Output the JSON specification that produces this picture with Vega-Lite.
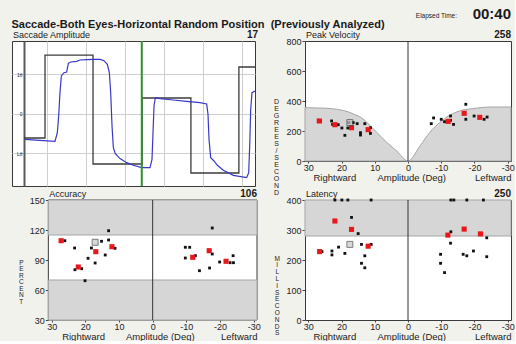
{
  "$schema": "https://vega.github.io/schema/vega-lite/v6.json",
  "background": "#f2f2ed",
  "padding": {"left": 11, "top": 6, "right": 0, "bottom": 0},
  "title": {"text": "Saccade-Both Eyes-Horizontal Random Position\u00a0 (Previously Analyzed)", "anchor": "start", "frame": "bounds", "font": "Liberation Sans", "fontSize": 11, "fontWeight": "bold", "color": "#1a1a1a", "offset": -23},
  "columns": 2,
  "bounds": "flush",
  "spacing": {"row": 14, "column": 48},
  "config": {
    "font": "Liberation Sans",
    "view": {"stroke": "#3a3a3a", "fill": "white"},
    "axis": {"labelFont": "Liberation Sans", "labelFontSize": 9, "labelColor": "#222", "tickColor": "#444", "tickSize": 3, "labelPadding": 1, "labelOverlap": false, "labelFlush": false, "labelBound": false, "domainColor": "#333", "titleFont": "Liberation Sans", "titleFontWeight": "normal", "titleColor": "#222", "titleFontSize": 9.5, "grid": false},
    "axisX": {"labelPadding": 0, "titlePadding": 0, "tickSize": 2},
    "text": {"font": "Liberation Sans", "color": "#1a1a1a"}
  },
  "datasets": {
    "eye": [
      {"t":0.436,"deg":-6.41},{"t":0.906,"deg":-6.75},{"t":1.205,"deg":-6.92},{"t":1.265,"deg":-4.73},{"t":1.299,"deg":-0.51},{"t":1.333,"deg":5.4},{"t":1.368,"deg":9.62},{"t":1.436,"deg":10.46},{"t":1.504,"deg":10.63},{"t":1.547,"deg":12.83},{"t":1.607,"deg":13.16},{"t":1.761,"deg":13.33},{"t":1.846,"deg":13.67},{"t":2.017,"deg":13.75},{"t":2.188,"deg":13.84},{"t":2.359,"deg":13.84},{"t":2.462,"deg":13.5},{"t":2.547,"deg":12.57},{"t":2.598,"deg":10.46},{"t":2.633,"deg":5.4},{"t":2.667,"deg":-3.04},{"t":2.701,"deg":-8.52},{"t":2.752,"deg":-10.04},{"t":2.872,"deg":-11.3},{"t":3.043,"deg":-12.32},{"t":3.213,"deg":-12.99},{"t":3.428,"deg":-13.59},{"t":3.641,"deg":-13.59},{"t":3.692,"deg":-11.48},{"t":3.718,"deg":-4.73},{"t":3.744,"deg":2.03},{"t":3.777,"deg":4.14},{"t":3.897,"deg":3.88},{"t":4.239,"deg":3.54},{"t":4.581,"deg":3.21},{"t":4.923,"deg":2.87},{"t":5.094,"deg":2.53},{"t":5.128,"deg":-0.08},{"t":5.154,"deg":-6.41},{"t":5.197,"deg":-11.05},{"t":5.282,"deg":-11.9},{"t":5.368,"deg":-12.99},{"t":5.521,"deg":-14.26},{"t":5.778,"deg":-15.53},{"t":6.12,"deg":-16.12},{"t":6.171,"deg":-14.85},{"t":6.197,"deg":-8.1},{"t":6.223,"deg":1.19},{"t":6.256,"deg":5.4},{"t":6.333,"deg":5.82}
    ],
    "target": [
      {"t":0.41,"deg":-6.08},{"t":0.949,"deg":14.9},{"t":2.18,"deg":-12.66},{"t":3.436,"deg":4.05},{"t":4.69,"deg":-14.94},{"t":5.92,"deg":11.9},{"t":6.333,"deg":11.9}
    ],
    "pvcurve": [
      {"amp":31,"v":356},{"amp":30,"v":355},{"amp":25,"v":352},{"amp":21.2,"v":344},{"amp":18,"v":328},{"amp":16.2,"v":311},{"amp":14,"v":288},{"amp":12.3,"v":256},{"amp":9.3,"v":189},{"amp":6.3,"v":122},{"amp":3.4,"v":67},{"amp":0,"v":0},{"amp":-3.6,"v":100},{"amp":-6.5,"v":189},{"amp":-9.5,"v":256},{"amp":-12.5,"v":305},{"amp":-15.4,"v":333},{"amp":-19.4,"v":349},{"amp":-25.3,"v":360},{"amp":-31,"v":360}
    ],
    "pv": [
      {"amp":26.3,"v":265,"kind":"trial"},{"amp":23,"v":267,"kind":"trial"},{"amp":22.7,"v":244,"kind":"trial"},{"amp":21,"v":242,"kind":"trial"},{"amp":19.9,"v":220,"kind":"trial"},{"amp":19,"v":171,"kind":"trial"},{"amp":18.1,"v":220,"kind":"trial"},{"amp":17.8,"v":256,"kind":"trial"},{"amp":16.5,"v":256,"kind":"trial"},{"amp":15.3,"v":249,"kind":"trial"},{"amp":14.3,"v":189,"kind":"trial"},{"amp":14.3,"v":173,"kind":"trial"},{"amp":13,"v":249,"kind":"trial"},{"amp":11.3,"v":222,"kind":"trial"},{"amp":11.3,"v":184,"kind":"trial"},
      {"amp":-7,"v":249,"kind":"trial"},{"amp":-7.7,"v":287,"kind":"trial"},{"amp":-10,"v":278,"kind":"trial"},{"amp":-11,"v":262,"kind":"trial"},{"amp":-12.8,"v":300,"kind":"trial"},{"amp":-12.8,"v":271,"kind":"trial"},{"amp":-13.7,"v":244,"kind":"trial"},{"amp":-17.4,"v":378,"kind":"trial"},{"amp":-17.4,"v":278,"kind":"trial"},{"amp":-19.9,"v":300,"kind":"trial"},{"amp":-22.9,"v":278,"kind":"trial"},{"amp":-23.8,"v":293,"kind":"trial"},
      {"amp":26.7,"v":267,"kind":"mean"},{"amp":22,"v":242,"kind":"mean"},{"amp":17,"v":222,"kind":"mean"},{"amp":12,"v":209,"kind":"mean"},{"amp":-12.1,"v":264,"kind":"mean"},{"amp":-16.9,"v":318,"kind":"mean"},{"amp":-21.6,"v":291,"kind":"mean"}
    ],
    "acc": [
      {"amp":26.1,"v":109.3,"kind":"trial"},{"amp":23.2,"v":102,"kind":"trial"},{"amp":23.1,"v":80.3,"kind":"trial"},{"amp":21.1,"v":81.3,"kind":"trial"},{"amp":20.1,"v":69.3,"kind":"trial"},{"amp":19.2,"v":91.7,"kind":"trial"},{"amp":18.2,"v":102,"kind":"trial"},{"amp":17.1,"v":87,"kind":"trial"},{"amp":15.2,"v":108.7,"kind":"trial"},{"amp":14.1,"v":95,"kind":"trial"},{"amp":13.1,"v":119.3,"kind":"trial"},{"amp":13.1,"v":110,"kind":"trial"},{"amp":11.2,"v":101.7,"kind":"trial"},
      {"amp":-9.7,"v":102.7,"kind":"trial"},{"amp":-11,"v":102.7,"kind":"trial"},{"amp":-9.7,"v":92,"kind":"trial"},{"amp":-12.7,"v":94.3,"kind":"trial"},{"amp":-13.9,"v":79.3,"kind":"trial"},{"amp":-17.7,"v":122,"kind":"trial"},{"amp":-17.7,"v":96,"kind":"trial"},{"amp":-16.9,"v":82,"kind":"trial"},{"amp":-19.9,"v":88,"kind":"trial"},{"amp":-23,"v":87.3,"kind":"trial"},{"amp":-24,"v":87.3,"kind":"trial"},{"amp":-23.9,"v":94.3,"kind":"trial"},
      {"amp":27.2,"v":109.3,"kind":"mean"},{"amp":22.1,"v":83,"kind":"mean"},{"amp":16.9,"v":98.3,"kind":"mean"},{"amp":12.1,"v":103.3,"kind":"mean"},{"amp":-11.9,"v":92.7,"kind":"mean"},{"amp":-16.8,"v":99.3,"kind":"mean"},{"amp":-21.8,"v":88.7,"kind":"mean"}
    ],
    "lat": [
      {"amp":25.9,"v":228,"kind":"trial"},{"amp":22.9,"v":230,"kind":"trial"},{"amp":22.9,"v":217,"kind":"trial"},{"amp":20.9,"v":243,"kind":"trial"},{"amp":19,"v":222,"kind":"trial"},{"amp":17,"v":342,"kind":"trial"},{"amp":15,"v":288,"kind":"trial"},{"amp":14,"v":252,"kind":"trial"},{"amp":14,"v":189,"kind":"trial"},{"amp":13,"v":214,"kind":"trial"},{"amp":13,"v":174,"kind":"trial"},{"amp":11.1,"v":252,"kind":"trial"},
      {"amp":22,"v":400,"kind":"trial"},{"amp":19.9,"v":400,"kind":"trial"},{"amp":18.1,"v":400,"kind":"trial"},{"amp":11.1,"v":400,"kind":"trial"},{"amp":-12.9,"v":400,"kind":"trial"},{"amp":-13.8,"v":400,"kind":"trial"},{"amp":-17.7,"v":400,"kind":"trial"},{"amp":-22.7,"v":400,"kind":"trial"},
      {"amp":-9.8,"v":219,"kind":"trial"},{"amp":-9.8,"v":189,"kind":"trial"},{"amp":-11,"v":158,"kind":"trial"},{"amp":-12.8,"v":256,"kind":"trial"},{"amp":-12.9,"v":294,"kind":"trial"},{"amp":-16.6,"v":219,"kind":"trial"},{"amp":-17.7,"v":214,"kind":"trial"},{"amp":-19.7,"v":230,"kind":"trial"},{"amp":-23.7,"v":274,"kind":"trial"},{"amp":-23.7,"v":211,"kind":"trial"},
      {"amp":26.6,"v":228,"kind":"mean"},{"amp":22,"v":330,"kind":"mean"},{"amp":17,"v":302,"kind":"mean"},{"amp":12,"v":246,"kind":"mean"},{"amp":-12,"v":283,"kind":"mean"},{"amp":-16.9,"v":303,"kind":"mean"},{"amp":-21.8,"v":287,"kind":"mean"}
    ]
  },
  "concat": [
    {
      "width": 243, "height": 145,
      "resolve": {"axis": {"x": "independent", "y": "independent"}},
      "layer": [
        {
          "data": {"name": "target"},
          "mark": {"type": "line", "color": "#3c3c3c", "strokeWidth": 1.3, "interpolate": "step-after"},
          "encoding": {
            "x": {"field": "t", "type": "quantitative", "scale": {"domain": [0.1026, 6.333], "nice": false, "zero": false},
                  "axis": {"grid": true, "values": [1,2,3,4,5,6], "labels": false, "ticks": false, "domain": false, "title": null, "gridColor": "#cfcfcf"}},
            "y": {"field": "deg", "type": "quantitative", "scale": {"domain": [-18.23, 18.48], "nice": false, "zero": false},
                  "axis": {"grid": true, "values": [-10, 0, 10], "offset": -12, "ticks": false, "domain": true, "domainColor": "#5a5a5a", "domainWidth": 2, "labelOverlap": false, "labelExpr": "datum.value == 0 ? '0' : (datum.value > 0 ? '1θ' : 'Lθ')", "labelFontSize": 5, "labelPadding": 2, "title": null, "gridColor": "#cfcfcf"}}
          }
        },
        {
          "data": {"name": "eye"},
          "mark": {"type": "line", "color": "#3838c8", "strokeWidth": 1.2},
          "encoding": {
            "x": {"field": "t", "type": "quantitative", "axis": null},
            "y": {"field": "deg", "type": "quantitative", "axis": null}
          }
        },
        {
          "data": {"values": [{}]},
          "mark": {"type": "rule", "color": "#2f8f2f", "strokeWidth": 2},
          "encoding": {"x": {"datum": 3.43, "axis": null}}
        },
        {
          "data": {"values": [{}]},
          "mark": {"type": "text", "text": "Saccade Amplitude", "align": "left", "baseline": "alphabetic", "dx": 1, "dy": -3, "fontSize": 9},
          "encoding": {"x": {"datum": 0.1026, "axis": null}, "y": {"datum": 18.48, "axis": null}}
        },
        {
          "data": {"values": [{}]},
          "mark": {"type": "text", "text": "17", "align": "right", "baseline": "alphabetic", "dx": 3, "dy": -3, "fontSize": 10, "fontWeight": "bold"},
          "encoding": {"x": {"datum": 6.333, "axis": null}, "y": {"datum": 18.48, "axis": null}}
        }
      ]
    },
    {
      "width": 206, "height": 120,
      "resolve": {"axis": {"x": "independent", "y": "independent"}},
      "layer": [
        {
          "data": {"name": "pvcurve"},
          "mark": {"type": "area", "fill": "#d6d6d6", "stroke": "#a5a5a5", "strokeWidth": 1, "interpolate": "monotone"},
          "encoding": {
            "x": {"field": "amp", "type": "quantitative", "scale": {"domain": [31, -31], "nice": false, "zero": false},
                  "axis": {"values": [30,20,10,0,-10,-20,-30], "labelOverlap": false, "labelExpr": "'' + datum.value", "domain": false, "title": "Rightward\u00a0\u00a0\u00a0\u00a0\u00a0\u00a0\u00a0\u00a0Amplitude (Deg)\u00a0\u00a0\u00a0\u00a0\u00a0\u00a0\u00a0\u00a0\u00a0\u00a0\u00a0Leftward\u00a0", "titleAnchor": "end"}},
            "y": {"field": "v", "type": "quantitative", "scale": {"domain": [0, 800], "nice": false},
                  "axis": {"values": [0,200,400,600,800], "labelOverlap": false, "domain": false, "title": ["D","E","G","R","E","E","S","/","S","E","C","O","N","D"], "titleAngle": 0, "titleAlign": "center", "titleBaseline": "middle", "titleFontSize": 7, "titleLineHeight": 7, "titleX": -29, "titleY": 60}}
          }
        },
        {
          "data": {"values": [{}]},
          "mark": {"type": "rule", "color": "#333", "strokeWidth": 1},
          "encoding": {"x": {"datum": 0, "axis": null}}
        },
        {
          "data": {"name": "pv"},
          "mark": {"type": "square", "filled": true, "opacity": 1},
          "encoding": {
            "x": {"field": "amp", "type": "quantitative", "axis": null},
            "y": {"field": "v", "type": "quantitative", "axis": null},
            "color": {"field": "kind", "type": "nominal", "scale": {"domain": ["trial", "mean"], "range": ["#111111", "#e8171c"]}, "legend": null},
            "size": {"field": "kind", "type": "nominal", "scale": {"domain": ["trial", "mean"], "range": [8, 26]}, "legend": null}
          }
        },
        {
          "data": {"values": [{"amp": 17.5, "v": 256}]},
          "mark": {"type": "square", "fill": "#c8c8c8", "stroke": "#222", "strokeWidth": 0.8, "size": 36},
          "encoding": {"x": {"field": "amp", "type": "quantitative", "axis": null}, "y": {"field": "v", "type": "quantitative", "axis": null}}
        },
        {
          "data": {"values": [{}]},
          "mark": {"type": "text", "text": "Peak Velocity", "align": "left", "baseline": "alphabetic", "dx": 1, "dy": -3, "fontSize": 9},
          "encoding": {"x": {"datum": 31, "axis": null}, "y": {"datum": 800, "axis": null}}
        },
        {
          "data": {"values": [{}]},
          "mark": {"type": "text", "text": "258", "align": "right", "baseline": "alphabetic", "dy": -3, "fontSize": 10, "fontWeight": "bold"},
          "encoding": {"x": {"datum": -31, "axis": null}, "y": {"datum": 800, "axis": null}}
        },
        {
          "data": {"values": [{}]},
          "mark": {"type": "text", "text": "00:40", "align": "right", "baseline": "alphabetic", "dy": -22, "fontSize": 15, "fontWeight": "bold"},
          "encoding": {"x": {"datum": -31, "axis": null}, "y": {"datum": 800, "axis": null}}
        },
        {
          "data": {"values": [{}]},
          "mark": {"type": "text", "text": "Elapsed Time:", "align": "right", "baseline": "alphabetic", "dx": -54, "dy": -23, "fontSize": 6.5, "color": "#222"},
          "encoding": {"x": {"datum": -31, "axis": null}, "y": {"datum": 800, "axis": null}}
        }
      ]
    },
    {
      "width": 245, "height": 120,
      "view": {"fill": null, "stroke": null},
      "resolve": {"axis": {"x": "independent", "y": "independent"}},
      "layer": [
        {
          "data": {"values": [{}]},
          "mark": {"type": "rect", "fill": "white", "stroke": "#3a3a3a", "strokeWidth": 1},
          "encoding": {"x": {"datum": 31, "axis": null}, "x2": {"datum": -31}, "y": {"datum": 30, "axis": null}, "y2": {"datum": 150}}
        },
        {
          "data": {"values": [{"lo": 115, "hi": 150}, {"lo": 30, "hi": 70}]},
          "mark": {"type": "rect", "fill": "#d6d6d6", "stroke": "#a5a5a5", "strokeWidth": 1},
          "encoding": {"x": {"datum": 31, "axis": null}, "x2": {"datum": -31}, "y": {"field": "lo", "type": "quantitative", "axis": null}, "y2": {"field": "hi"}}
        },
        {
          "data": {"values": [{}]},
          "mark": {"type": "rule", "color": "#333", "strokeWidth": 1},
          "encoding": {"x": {"datum": 0, "axis": null}}
        },
        {
          "data": {"name": "acc"},
          "mark": {"type": "square", "filled": true, "opacity": 1},
          "encoding": {
            "x": {"field": "amp", "type": "quantitative", "scale": {"domain": [41.8, -31], "nice": false, "zero": false},
                  "axis": {"values": [30,20,10,0,-10,-20,-30], "labelOverlap": false, "labelExpr": "'' + datum.value", "domain": false, "title": "Rightward\u00a0\u00a0\u00a0\u00a0\u00a0\u00a0\u00a0\u00a0Amplitude (Deg)\u00a0\u00a0\u00a0\u00a0\u00a0\u00a0\u00a0\u00a0\u00a0\u00a0Leftward\u00a0\u00a0", "titleAnchor": "end"}},
            "y": {"field": "v", "type": "quantitative", "scale": {"domain": [30, 150], "nice": false, "zero": false},
                  "axis": {"values": [30,60,90,120,150], "labelOverlap": false, "offset": -36.35, "domain": false, "title": ["P","E","R","C","E","N","T"], "titleAngle": 0, "titleAlign": "center", "titleBaseline": "middle", "titleFontSize": 6.5, "titleLineHeight": 6.5, "titleX": -27.5, "titleY": 62}},
            "color": {"field": "kind", "type": "nominal", "scale": {"domain": ["trial", "mean"], "range": ["#111111", "#e8171c"]}, "legend": null},
            "size": {"field": "kind", "type": "nominal", "scale": {"domain": ["trial", "mean"], "range": [8, 26]}, "legend": null}
          }
        },
        {
          "data": {"values": [{"amp": 17.1, "v": 107.7}]},
          "mark": {"type": "square", "fill": "#c8c8c8", "stroke": "#222", "strokeWidth": 0.8, "size": 36},
          "encoding": {"x": {"field": "amp", "type": "quantitative", "axis": null}, "y": {"field": "v", "type": "quantitative", "axis": null}}
        },
        {
          "data": {"values": [{}]},
          "mark": {"type": "text", "text": "Accuracy", "align": "left", "baseline": "alphabetic", "dx": 1, "dy": -3, "fontSize": 9},
          "encoding": {"x": {"datum": 31, "axis": null}, "y": {"datum": 150, "axis": null}}
        },
        {
          "data": {"values": [{}]},
          "mark": {"type": "text", "text": "106", "align": "right", "baseline": "alphabetic", "dy": -3, "fontSize": 10, "fontWeight": "bold"},
          "encoding": {"x": {"datum": -31, "axis": null}, "y": {"datum": 150, "axis": null}}
        }
      ]
    },
    {
      "width": 206, "height": 120,
      "resolve": {"axis": {"x": "independent", "y": "independent"}},
      "layer": [
        {
          "data": {"values": [{"lo": 280, "hi": 400}]},
          "mark": {"type": "rect", "fill": "#d6d6d6", "stroke": "#a5a5a5", "strokeWidth": 1},
          "encoding": {"x": {"datum": 31, "axis": null}, "x2": {"datum": -31}, "y": {"field": "lo", "type": "quantitative", "axis": null}, "y2": {"field": "hi"}}
        },
        {
          "data": {"values": [{}]},
          "mark": {"type": "rule", "color": "#333", "strokeWidth": 1},
          "encoding": {"x": {"datum": 0, "axis": null}}
        },
        {
          "data": {"name": "lat"},
          "mark": {"type": "square", "filled": true, "opacity": 1},
          "encoding": {
            "x": {"field": "amp", "type": "quantitative", "scale": {"domain": [31, -31], "nice": false, "zero": false},
                  "axis": {"values": [30,20,10,0,-10,-20,-30], "labelOverlap": false, "labelExpr": "'' + datum.value", "domain": false, "title": "Rightward\u00a0\u00a0\u00a0\u00a0\u00a0\u00a0\u00a0\u00a0Amplitude (Deg)\u00a0\u00a0\u00a0\u00a0\u00a0\u00a0\u00a0\u00a0\u00a0\u00a0\u00a0Leftward\u00a0", "titleAnchor": "end"}},
            "y": {"field": "v", "type": "quantitative", "scale": {"domain": [0, 400], "nice": false},
                  "axis": {"values": [0,100,200,300,400], "labelOverlap": false, "domain": false, "title": ["M","I","L","L","I","S","E","C","O","N","D","S"], "titleAngle": 0, "titleAlign": "center", "titleBaseline": "middle", "titleFontSize": 6.5, "titleLineHeight": 6.8, "titleX": -28.3, "titleY": 58}},
            "color": {"field": "kind", "type": "nominal", "scale": {"domain": ["trial", "mean"], "range": ["#111111", "#e8171c"]}, "legend": null},
            "size": {"field": "kind", "type": "nominal", "scale": {"domain": ["trial", "mean"], "range": [8, 26]}, "legend": null}
          }
        },
        {
          "data": {"values": [{"amp": 17.5, "v": 252}]},
          "mark": {"type": "square", "fill": "#c8c8c8", "stroke": "#222", "strokeWidth": 0.8, "size": 36},
          "encoding": {"x": {"field": "amp", "type": "quantitative", "axis": null}, "y": {"field": "v", "type": "quantitative", "axis": null}}
        },
        {
          "data": {"values": [{}]},
          "mark": {"type": "text", "text": "Latency", "align": "left", "baseline": "alphabetic", "dx": 1, "dy": -3, "fontSize": 9},
          "encoding": {"x": {"datum": 31, "axis": null}, "y": {"datum": 400, "axis": null}}
        },
        {
          "data": {"values": [{}]},
          "mark": {"type": "text", "text": "250", "align": "right", "baseline": "alphabetic", "dy": -3, "fontSize": 10, "fontWeight": "bold"},
          "encoding": {"x": {"datum": -31, "axis": null}, "y": {"datum": 400, "axis": null}}
        }
      ]
    }
  ]
}
